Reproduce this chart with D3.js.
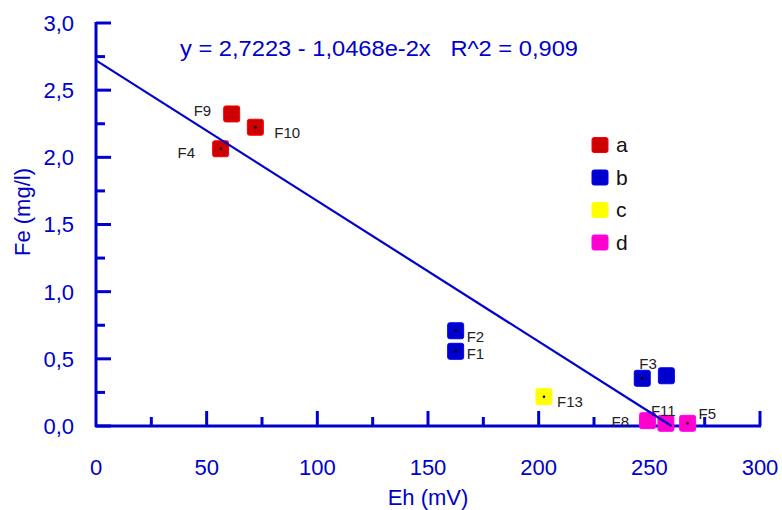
<!DOCTYPE html>
<html>
<head>
<meta charset="utf-8">
<script src="https://cdn.jsdelivr.net/npm/d3@7"></script>
<style>
  body { margin: 0; background: #fff; }
  svg { display: block; font-family: "Liberation Sans", Arial, sans-serif; }
</style>
</head>
<body>
<svg id="chart" width="782" height="510"></svg>
<script>
// sample data
var sampleNames = ["F9", "F10", "F4", "F2", "F1", "F13", "F3", "", "F8", "F11", "F5"];
var ehValues    = [61.3, 72.0, 56.3, 162.5, 162.5, 202.4, 246.8, 257.7, 249.2, 257.5, 267.3];
var feValues    = [2.323, 2.224, 2.064, 0.709, 0.556, 0.218, 0.355, 0.374, 0.04, 0.02, 0.02];
var groups      = ["a", "a", "a", "b", "b", "c", "b", "b", "d", "d", "d"];
var hasDot      = [false, true, true, true, true, true, true, false, false, false, true];

var legendKeys = ["a", "b", "c", "d"];
var legendColors = ["#cc0000", "#0000cc", "#ffff00", "#ff00cc"];

var xTicks = [0, 50, 100, 150, 200, 250, 300];
var yTicks = [0, 0.5, 1.0, 1.5, 2.0, 2.5, 3.0];

// regression: y = 2.7223 - 1.0468e-2 x
var intercept = 2.7223, slope = -1.0468e-2;

var svg = d3.select("#chart");
var axisColor = "#0000cc";

var x = d3.scaleLinear().domain([0, 300]).range([96, 760]);
var y = d3.scaleLinear().domain([0, 3]).range([426, 23]);
var color = d3.scaleOrdinal().domain(legendKeys).range(legendColors);

function fmt(v) { return d3.format(".1f")(v).replace(".", ","); }

// axes lines
svg.append("line")
	.attr("x1", x(0)).attr("x2", x(0))
	.attr("y1", y(0) + 1).attr("y2", y(3) - 1)
	.attr("stroke", axisColor).attr("stroke-width", 3);
svg.append("line")
	.attr("x1", x(0) - 1).attr("x2", x(300) + 1)
	.attr("y1", y(0)).attr("y2", y(0))
	.attr("stroke", axisColor).attr("stroke-width", 3);

// y ticks (inward) - major plus minor
d3.range(0, 3.01, 0.25).forEach(function(v) {
	var major = Math.abs(v * 2 - Math.round(v * 2)) < 1e-6;
	svg.append("line")
		.attr("x1", x(0)).attr("x2", x(0) + (major ? 15 : 9))
		.attr("y1", y(v)).attr("y2", y(v))
		.attr("stroke", axisColor).attr("stroke-width", 3);
});
svg.selectAll("text.ytick")
	.data(yTicks)
	.enter()
	.append("text")
	.attr("class", "ytick")
	.attr("x", 74)
	.attr("y", d => y(d))
	.attr("dy", "0.36em")
	.attr("text-anchor", "end")
	.attr("font-size", 22)
	.attr("fill", axisColor)
	.text(fmt);

// x ticks (inward)
d3.range(25, 301, 25).forEach(function(v) {
	var major = v % 50 === 0;
	svg.append("line")
		.attr("x1", x(v)).attr("x2", x(v))
		.attr("y1", y(0)).attr("y2", y(0) - (major ? 15 : 9))
		.attr("stroke", axisColor).attr("stroke-width", 3);
});
svg.selectAll("text.xtick")
	.data(xTicks)
	.enter()
	.append("text")
	.attr("class", "xtick")
	.attr("x", d => x(d))
	.attr("y", 475)
	.attr("text-anchor", "middle")
	.attr("font-size", 22)
	.attr("fill", axisColor)
	.text(d => d);

// axis titles
svg.append("text")
	.attr("x", 428).attr("y", 505)
	.attr("text-anchor", "middle")
	.attr("font-size", 22)
	.attr("fill", axisColor)
	.text("Eh (mV)");
svg.append("text")
	.attr("transform", "translate(30,212) rotate(-90)")
	.attr("text-anchor", "middle")
	.attr("font-size", 22)
	.attr("fill", axisColor)
	.text("Fe (mg/l)");

// equation
svg.append("text")
	.attr("x", 180).attr("y", 56)
	.attr("font-size", 22)
	.attr("fill", axisColor)
	.attr("textLength", 398)
	.attr("lengthAdjust", "spacingAndGlyphs")
	.style("white-space", "pre")
	.text("y = 2,7223 - 1,0468e-2x   R^2 = 0,909");

// points
var pts = svg.selectAll("g.pt")
	.data(sampleNames.map((n, i) => ({ name: n, eh: ehValues[i], fe: feValues[i], g: groups[i], dot: hasDot[i] })))
	.enter()
	.append("g")
	.attr("class", "pt")
	.attr("transform", d => "translate(" + x(d.eh) + "," + y(d.fe) + ")");

pts.append("rect")
	.attr("x", -8).attr("y", -8)
	.attr("width", 16).attr("height", 16)
	.attr("rx", 2)
	.attr("fill", d => color(d.g))
	.attr("stroke", d => d3.color(color(d.g)).brighter(0.8))
	.attr("stroke-width", 1);

pts.filter(d => d.dot)
	.append("circle")
	.attr("r", 1.3)
	.attr("fill", "#000");

// regression line, drawn above the points and ending at the x intercept
var xEnd = -intercept / slope;
svg.append("line")
	.attr("x1", x(0)).attr("y1", y(intercept))
	.attr("x2", x(xEnd)).attr("y2", y(0))
	.attr("stroke", axisColor).attr("stroke-width", 2.2);

// point labels
var labelOffsets = {
	"F9": [-38, 2], "F10": [19, 11], "F4": [-43, 9], "F2": [11, 11], "F1": [11, 8],
	"F13": [13, 10], "F3": [-3, -9], "F8": [-36, 6], "F11": [-15, -7], "F5": [11, -4]
};
pts.filter(d => d.name !== "")
	.append("text")
	.attr("x", d => labelOffsets[d.name][0])
	.attr("y", d => labelOffsets[d.name][1])
	.attr("font-size", 15)
	.attr("fill", "#222")
	.text(d => d.name);

// legend
var legend = svg.selectAll("g.legend")
	.data(legendKeys)
	.enter()
	.append("g")
	.attr("class", "legend")
	.attr("transform", (d, i) => "translate(600," + (145 + i * 32.5) + ")");
legend.append("rect")
	.attr("x", -8).attr("y", -7.5)
	.attr("width", 16).attr("height", 15)
	.attr("rx", 2)
	.attr("fill", d => color(d))
	.attr("stroke", d => d3.color(color(d)).brighter(0.8))
	.attr("stroke-width", 1);
legend.append("text")
	.attr("x", 16).attr("y", 0)
	.attr("dy", "0.35em")
	.attr("font-size", 21)
	.attr("fill", "#111")
	.text(d => d);
</script>
</body>
</html>
